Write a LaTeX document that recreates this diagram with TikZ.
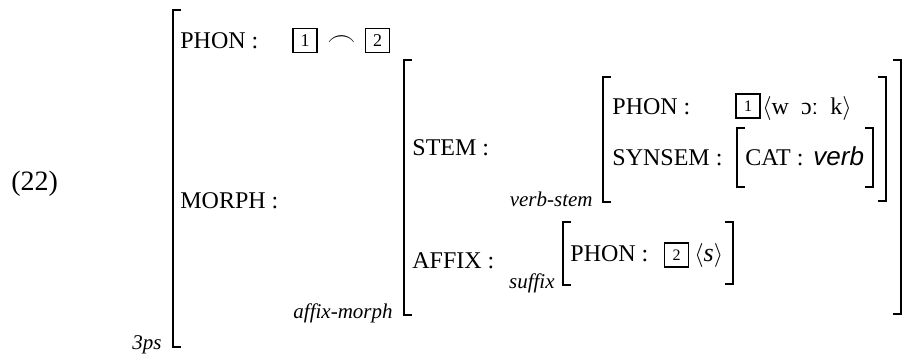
\documentclass[tikz,border=0pt]{standalone}
\usepackage{fontspec}
\setmainfont{Liberation Serif}
\newfontfamily\valsans{Liberation Sans}

\tikzset{
  feat/.style={anchor=base west, inner sep=0pt, font=\fontsize{12}{14}\selectfont},
  sortlabel/.style={anchor=base east, inner sep=0pt, font=\fontsize{10.5}{12}\selectfont\itshape},
  tagbox/.style={draw, line width=0.6pt, minimum size=12pt, inner sep=0pt, font=\fontsize{8}{8}\selectfont},
  brk/.style={line width=1.1pt}
}

% square brackets of an AVM: x, top y, bottom y
\newcommand{\avmleft}[3]{\draw[brk] (#1+8,#2) -- (#1,#2) -- (#1,#3) -- (#1+8,#3);}
\newcommand{\avmright}[3]{\draw[brk] (#1-8,#2) -- (#1,#2) -- (#1,#3) -- (#1-8,#3);}

\begin{document}
\begin{tikzpicture}[x=0.5pt, y=-0.5pt]
  \useasboundingbox (0,0) rectangle (908,354);

  \node[feat, font=\fontsize{14}{16}\selectfont] (exnum) at (11,190) {(22)};

  % 3ps
  \avmleft{173}{10}{347}
  \node[sortlabel] (t3ps) at (162,349) {3ps};
  \node[feat] (phon) at (180,48) {PHON :};
  \node[tagbox, font=\fontsize{9}{9}\selectfont] (tagone) at (305,40.5) {1};
  \node[inner sep=0pt, font=\fontsize{14}{14}\selectfont] (concat) at (341.5,41) {$\frown$};
  \node[tagbox, font=\fontsize{9}{9}\selectfont] (tagtwo) at (377.5,40.5) {2};
  \node[feat] (morph) at (180,208) {MORPH :};

  % affix-morph
  \avmleft{404}{60}{315}
  \avmright{901}{60}{314}
  \node[sortlabel] (taffmorph) at (393,318) {affix-morph};
  \node[feat] (stem) at (412,155) {STEM :};
  \node[feat] (affix) at (412,268) {AFFIX :};

  % verb-stem
  \avmleft{603}{77}{202}
  \avmright{886}{77}{201}
  \node[sortlabel] (tverbstem) at (593,206) {verb-stem};
  \node[feat] (stemphon) at (612,114) {PHON :};
  \node[tagbox] (stemtag) at (748,106) {1};
  \node[feat] (stemform) at (762,114) {$\langle$w\enspace ɔː\enspace k$\rangle$};
  \node[feat] (synsem) at (612,165) {SYNSEM :};
  \avmleft{737}{128}{187}
  \avmright{873}{128}{187}
  \node[feat] (cat) at (745,165) {CAT :};
  \node[feat, font=\fontsize{13}{14}\valsans\itshape] (catval) at (813,165) {verb};

  % suffix
  \avmleft{563}{222}{285}
  \avmright{733}{222}{284}
  \node[sortlabel] (tsuffix) at (555,288) {suffix};
  \node[feat] (affphon) at (570,261) {PHON :};
  \node[tagbox] (afftag) at (676.5,255) {2};
  \node[feat, font=\fontsize{13}{14}\selectfont] (affform) at (694,261) {$\langle$\textit{s}$\rangle$};
\end{tikzpicture}
\end{document}
